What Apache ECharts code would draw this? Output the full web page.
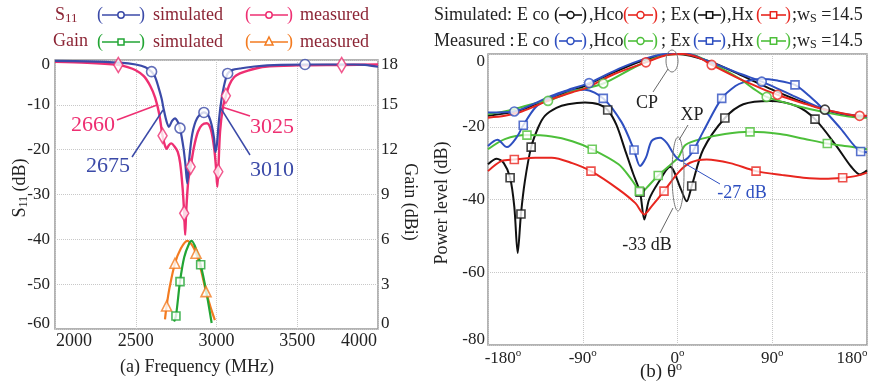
<!DOCTYPE html>
<html><head><meta charset="utf-8">
<script src="https://cdn.jsdelivr.net/npm/echarts@6/dist/echarts.min.js"></script>
<style>html,body{margin:0;padding:0;background:#fff}#c{width:883px;height:386px}</style>
</head><body><div id="c"></div>
<script>
// ---------- (a) S11 / Gain vs frequency ----------
const s11SimFreq = [2000,2200,2400,2500,2560,2598,2620,2640,2660,2672,2690,2705,2725,2743,2760,2774,2795,2808,2819,2830,2850,2880,2922,2950,2970,2985,2993,3002,3015,3030,3045,3069,3100,3145,3250,3400,3548,3700,3850,3920,4000];
const s11SimDb   = [-0.2,-0.3,-0.6,-1.0,-1.6,-2.6,-3.8,-6.0,-8.6,-10.8,-13.6,-14.9,-13.6,-13.0,-13.8,-15.2,-19.5,-23.5,-27.5,-22.5,-16.5,-13.0,-11.7,-12.4,-14.5,-17.5,-20.5,-19.0,-13.5,-9.0,-6.0,-3.0,-2.2,-1.9,-1.4,-1.1,-1.0,-1.0,-1.0,-1.1,-1.5];
const s11SimMarkFreq = [2598,2774,2922,3069,3548];
const s11SimMarkDb   = [-2.6,-15.2,-11.7,-3.0,-1.0];

const s11MeasFreq = [2000,2200,2392,2450,2500,2550,2590,2620,2645,2666,2680,2692,2705,2720,2740,2760,2775,2790,2800,2806,2812,2825,2840,2860,2885,2910,2940,2965,2985,2997,3005,3011,3022,3040,3058,3080,3110,3145,3200,3300,3500,3775,4000];
const s11MeasDb   = [-0.4,-0.6,-1.1,-1.6,-2.3,-3.6,-5.8,-8.4,-12.0,-16.9,-19.0,-19.8,-19.0,-18.6,-19.3,-20.5,-23.0,-28.5,-34.2,-39.0,-34.0,-27.0,-23.8,-19.5,-16.0,-14.5,-14.1,-15.5,-19.5,-24.0,-28.3,-24.9,-16.0,-10.5,-8.0,-5.5,-3.8,-3.0,-2.3,-1.5,-1.2,-1.1,-1.0];
const s11MeasMarkFreq = [2392,2666,2800,2840,3011,3058,3775];
const s11MeasMarkDb   = [-1.1,-16.9,-34.2,-23.8,-24.9,-8.0,-1.1];

const gainSimFreq = [2737,2749,2774,2800,2830,2846,2875,2902,2935,2970];
const gainSimDbi  = [0.5,0.87,3.17,4.8,5.7,5.9,5.3,4.3,2.6,0.4];
const gainSimMarkFreq = [2749,2774,2902];
const gainSimMarkDbi  = [0.87,3.17,4.3];

const gainMeasFreq = [2681,2691,2710,2743,2780,2819,2850,2873,2905,2935,2965,2990];
const gainMeasDbi  = [0.65,1.54,2.8,4.4,5.4,5.9,5.6,5.07,3.9,2.5,1.4,0.6];
const gainMeasMarkFreq = [2691,2743,2873,2935];
const gainMeasMarkDbi  = [1.54,4.4,5.07,2.5];

// ---------- (b) radiation patterns ----------
const ecoSimTheta = [-180,-150,-120,-90,-60,-30,0,30,60,90,115,140,160,180];
const ecoSimDb    = [-17,-15.5,-12,-9,-5,-1.5,0,-2,-5.8,-9.8,-12.8,-15.3,-16.8,-17.3];
const ecoSimMarkTheta = [140];
const ecoSimMarkDb    = [-15.3];

const hcoSimTheta = [-180,-164,-150,-135,-119.5,-100,-88,-60,-30,-10,5,20,32.5,60,80,95,120,138.5,160,173,180];
const hcoSimDb    = [-17.5,-17,-16,-14.3,-12.4,-10.5,-9.5,-5.5,-2.3,-0.3,0,-1,-3,-7,-9.5,-11.2,-13.6,-15.2,-16.5,-17,-17];
const hcoSimMarkTheta = [-30,32.5,95,173];
const hcoSimMarkDb    = [-2.3,-3,-11.2,-17];

const ecoMeasTheta = [-180,-155,-135,-120,-100,-84,-56,-30,-10,10,25,40,60,80,95,110,135,155,173,180];
const ecoMeasDb    = [-16.1,-15.8,-13.5,-11.5,-9.5,-8,-4.1,-1.2,0,0,-1.5,-3.2,-5.5,-7.6,-9.5,-11.5,-14.7,-16.3,-17,-17.2];
const ecoMeasMarkTheta = [-155,-84,80];
const ecoMeasMarkDb    = [-15.8,-8,-7.6];

const hcoMeasTheta = [-180,-160,-132,-123,-100,-70.5,-40,-15,0,15,40,60,72,84.7,110,140,173,180];
const hcoMeasDb    = [-16.6,-15.5,-13.3,-12.9,-10.3,-8.1,-3.5,-0.5,0,-0.3,-3.7,-7,-9.5,-11.8,-14,-16,-17.5,-17.5];
const hcoMeasMarkTheta = [-123,-70.5,84.7];
const hcoMeasMarkDb    = [-12.9,-8.1,-11.8];

const exSimTheta = [-180,-171.7,-165,-159,-155,-151.8,-148.7,-145,-139,-132,-126,-115,-104,-88,-75,-66.3,-58,-50,-42,-35.6,-31.5,-27,-18.3,-7,3,8.7,13.5,24.5,45,62.5,88,113,130.6,151,165,173.3,180];
const exSimDb    = [-30.3,-28.8,-30,-34,-42,-54.7,-44,-35,-25.6,-20,-17,-14.8,-13.8,-13.3,-13.8,-15.4,-19.5,-26.2,-33,-38,-45.5,-40,-35.4,-31,-37,-40.5,-36.3,-26.2,-17.6,-13.8,-12.9,-14.3,-17.9,-25.3,-31,-33.1,-32];
const exSimMarkTheta = [-159,-148.7,-139,-66.3,-35.6,13.5,45,130.6];
const exSimMarkDb    = [-34,-44,-25.6,-15.4,-38,-36.3,-17.6,-17.9];

const exMeasTheta = [-180,-171,-162,-153,-146.5,-135,-123,-104,-88,-70.5,-53,-41.3,-35.6,-30,-24.5,-16.5,-10,-2.4,4,10,15.7,25,42,55,62.5,78.4,95,111.6,125,138.5,155,174,180];
const exMeasDb    = [-25.3,-23.6,-25.6,-23,-19.6,-14.7,-12.4,-10.1,-9.8,-12.2,-18.8,-26.4,-30.8,-28.5,-23.9,-23,-24.5,-28,-29.4,-28.5,-26.2,-21,-12.2,-8.8,-7.8,-6.9,-7.3,-8.5,-11.5,-15.2,-20.5,-26.8,-27];
const exMeasMarkTheta = [-146.5,-70.5,-41.3,15.7,42,111.6,174];
const exMeasMarkDb    = [-19.6,-12.2,-26.4,-26.2,-12.2,-8.5,-26.8];

const hxSimTheta = [-180,-167,-155,-135,-119.5,-100,-82.2,-56,-40,-31.5,-25,-12.8,0.7,11.9,27.7,50,74.6,100,119.5,140,156.9,170,180];
const hxSimDb    = [-32.2,-29.4,-29,-28.5,-28.5,-30,-32.2,-37.2,-41,-44.1,-42,-37.7,-32.6,-29.9,-29,-30,-32.2,-33.3,-34,-34.3,-34,-33.5,-32.6];
const hxSimMarkTheta = [-155,-82.2,-12.8,74.6,156.9];
const hxSimMarkDb    = [-29,-32.2,-37.7,-32.2,-34];

const hxMeasTheta = [-180,-164,-143,-119.5,-100,-81,-56,-45,-36.3,-34.7,-30,-18.3,-5,0.7,7.5,24.5,45,68.9,97.4,120,142.3,165,180];
const hxMeasDb    = [-26.2,-23.4,-22.3,-22.7,-24,-26.2,-30.3,-34,-37.7,-38.3,-37,-33.4,-30,-28.5,-25,-23.2,-22,-21.4,-22,-23.3,-24.6,-25.5,-26.2];
const hxMeasMarkTheta = [-143,-81,-36.3,-18.3,68.9,142.3];
const hxMeasMarkDb    = [-22.3,-26.2,-37.7,-33.4,-21.4,-24.6];

// ---------- styling ----------
const FONT = 'Liberation Serif';
const C = {
  s11Sim:'#3b4aa8', s11Meas:'#ee2f72', gainSim:'#22a534', gainMeas:'#f37b20',
  blk:'#111111', red:'#e8261f', blu:'#2e4fc0', grn:'#4dbf3a', legTxt:'#8c2535'
};
const zip = (a,b) => a.map((x,i)=>[x,b[i]]);
function curve(xs, ys, color, xi, yi, w, z){
  return {type:'line', data:zip(xs,ys), xAxisIndex:xi, yAxisIndex:yi, showSymbol:false, smooth:0.3,
    lineStyle:{color:color, width:w}, itemStyle:{color:color}, z:z||2, silent:true};
}
function marks(xs, ys, color, symbol, size, xi, yi){
  return {type:'scatter', data:zip(xs,ys), xAxisIndex:xi, yAxisIndex:yi, symbol:symbol, symbolSize:size,
    itemStyle:{color:'#fff', borderColor:color, borderWidth:1.6}, z:5, silent:true};
}
const gridLine = {show:true, lineStyle:{color:'#c8c8c8', type:'dotted', width:1}};
const lab = (sz) => ({fontFamily:FONT, fontSize:sz, color:'#222'});

const chart = echarts.init(document.getElementById('c'));

const option = {
  animation:false,
  grid:[
    {left:55, top:60, width:323, height:269, show:true, borderColor:'#9a9a9a', borderWidth:1.5, backgroundColor:'transparent'},
    {left:488, top:54, width:379, height:291, show:true, borderColor:'#9a9a9a', borderWidth:1.5, backgroundColor:'transparent'}
  ],
  xAxis:[
    {type:'value', gridIndex:0, min:2000, max:4000, interval:500, axisLine:{show:false}, axisTick:{show:false}, splitLine:gridLine,
     axisLabel:Object.assign(lab(18), {margin:3, formatter:v=> v===2000?'{l|2000}':(v===4000?'{r|4000}':String(v)),
       rich:{l:{fontFamily:FONT,fontSize:18,color:'#222',padding:[0,0,0,38]}, r:{fontFamily:FONT,fontSize:18,color:'#222',padding:[0,38,0,0]}}})},
    {type:'value', gridIndex:1, min:-180, max:180, interval:90, axisLine:{show:false}, axisTick:{show:false}, splitLine:gridLine,
     axisLabel:Object.assign(lab(17), {margin:3, formatter:v=>{
        const a = v===-180?'nl':'n', b = v===180?'sr':'s';
        return '{'+a+'|'+v+'}{'+b+'|o}';},
       rich:{n:{fontFamily:FONT,fontSize:17,color:'#222'}, nl:{fontFamily:FONT,fontSize:17,color:'#222',padding:[0,0,0,30]},
             s:{fontFamily:FONT,fontSize:11,color:'#222',padding:[0,0,10,0]}, sr:{fontFamily:FONT,fontSize:11,color:'#222',padding:[0,30,10,0]}}})}
  ],
  yAxis:[
    {type:'value', gridIndex:0, min:-60, max:0, interval:10, axisLine:{show:false}, axisTick:{show:false}, splitLine:gridLine,
     axisLabel:Object.assign(lab(17), {margin:5, formatter:v=> v===0?'{t|0}':(v===-60?'{b|-60}':String(v)),
       rich:{t:{fontFamily:FONT,fontSize:17,color:'#222',padding:[10,0,0,0]}, b:{fontFamily:FONT,fontSize:17,color:'#222',padding:[0,0,10,0]}}})},
    {type:'value', gridIndex:0, position:'right', min:0, max:18, interval:3, axisLine:{show:false}, axisTick:{show:false}, splitLine:{show:false},
     axisLabel:Object.assign(lab(17), {margin:3, formatter:v=> v===18?'{t|18}':(v===0?'{b|0}':String(v)),
       rich:{t:{fontFamily:FONT,fontSize:17,color:'#222',padding:[10,0,0,0]}, b:{fontFamily:FONT,fontSize:17,color:'#222',padding:[0,0,10,0]}}})},
    {type:'value', gridIndex:1, min:-80, max:0, interval:20, axisLine:{show:false}, axisTick:{show:false}, splitLine:gridLine,
     axisLabel:Object.assign(lab(17), {margin:3, formatter:v=> v===0?'{t|0}':(v===-80?'{b|-80}':String(v)),
       rich:{t:{fontFamily:FONT,fontSize:17,color:'#222',padding:[16,0,0,0]}, b:{fontFamily:FONT,fontSize:17,color:'#222',padding:[0,0,10,0]}}})}
  ],
  series:[
    curve(gainMeasFreq, gainMeasDbi, C.gainMeas, 0, 1, 2.2, 2),
    curve(gainSimFreq, gainSimDbi, C.gainSim, 0, 1, 2.2, 3),
    marks(gainMeasMarkFreq, gainMeasMarkDbi, C.gainMeas, 'triangle', 10, 0, 1),
    marks(gainSimMarkFreq, gainSimMarkDbi, C.gainSim, 'rect', 8, 0, 1),
    curve(s11MeasFreq, s11MeasDb, C.s11Meas, 0, 0, 2.4, 2),
    curve(s11SimFreq, s11SimDb, C.s11Sim, 0, 0, 2.2, 3),
    marks(s11MeasMarkFreq, s11MeasMarkDb, C.s11Meas, 'diamond', [9,15], 0, 0),
    marks(s11SimMarkFreq, s11SimMarkDb, C.s11Sim, 'circle', 10, 0, 0),

    curve(exSimTheta, exSimDb, C.blk, 1, 2, 2, 2),
    curve(hxSimTheta, hxSimDb, C.red, 1, 2, 2, 2),
    curve(hxMeasTheta, hxMeasDb, C.grn, 1, 2, 2, 2),
    curve(exMeasTheta, exMeasDb, C.blu, 1, 2, 2, 3),
    curve(ecoSimTheta, ecoSimDb, C.blk, 1, 2, 2, 2),
    curve(hcoMeasTheta, hcoMeasDb, C.grn, 1, 2, 2, 3),
    curve(ecoMeasTheta, ecoMeasDb, C.blu, 1, 2, 2, 3),
    curve(hcoSimTheta, hcoSimDb, C.red, 1, 2, 2, 4),
    marks(exSimMarkTheta, exSimMarkDb, C.blk, 'rect', 8, 1, 2),
    marks(hxSimMarkTheta, hxSimMarkDb, C.red, 'rect', 8, 1, 2),
    marks(hxMeasMarkTheta, hxMeasMarkDb, C.grn, 'rect', 8, 1, 2),
    marks(exMeasMarkTheta, exMeasMarkDb, C.blu, 'rect', 8, 1, 2),
    marks(ecoSimMarkTheta, ecoSimMarkDb, C.blk, 'circle', 9, 1, 2),
    marks(hcoMeasMarkTheta, hcoMeasMarkDb, C.grn, 'circle', 9, 1, 2),
    marks(ecoMeasMarkTheta, ecoMeasMarkDb, C.blu, 'circle', 9, 1, 2),
    marks(hcoSimMarkTheta, hcoSimMarkDb, C.red, 'circle', 9, 1, 2)
  ]
};

// ---------- legends, titles, annotations (graphic) ----------
const G = [];
function txt(x, y, s, opt){
  opt = opt || {};
  G.push({type:'text', x:x, y:y, rotation:opt.rot||0, z:10, silent:true,
    style:{text:s, fill:opt.color||'#222', font:(opt.size||18)+'px "'+FONT+'"', align:opt.align||'left', verticalAlign:'middle', rich:opt.rich}});
}
function mk(cx, cy, color, sym, s){
  const st = {fill:'#fff', stroke:color, lineWidth:1.5};
  if (sym==='circle') G.push({type:'circle', z:11, shape:{cx:cx, cy:cy, r:s}, style:st});
  else if (sym==='rect') G.push({type:'rect', z:11, shape:{x:cx-s, y:cy-s, width:2*s, height:2*s}, style:st});
  else if (sym==='triangle') G.push({type:'polygon', z:11, shape:{points:[[cx,cy-s-1],[cx+s,cy+s-1],[cx-s,cy+s-1]]}, style:st});
}
function glyph(x, w, y, color, sym, s, fs){
  txt(x, y, '(', {color:color, size:fs});
  txt(x+w, y, ')', {color:color, size:fs, align:'right'});
  G.push({type:'line', z:10, shape:{x1:x+5, y1:y, x2:x+w-5, y2:y}, style:{stroke:color, lineWidth:1.6}});
  mk(x+w/2, y, color, sym, s);
}
const subRich = (sz,col) => ({sub:{fontFamily:FONT, fontSize:sz, fill:col, color:col, padding:[8,0,0,0]}, n:{fontFamily:FONT, fontSize:18, fill:col, color:col}});

// left legend
txt(55, 15, '{n|S}{sub|11}', {color:C.legTxt, rich:subRich(13, C.legTxt)});
glyph(97, 48, 15, C.s11Sim, 'circle', 3.2, 18);  txt(153, 15, 'simulated', {color:C.legTxt});
glyph(245, 48, 15, C.s11Meas, 'circle', 3.2, 18); txt(300, 15, 'measured', {color:C.legTxt});
txt(53, 41, 'Gain', {color:C.legTxt});
glyph(97, 48, 42, C.gainSim, 'rect', 3, 18);  txt(153, 42, 'simulated', {color:C.legTxt});
glyph(245, 48, 42, C.gainMeas, 'triangle', 4, 18); txt(300, 42, 'measured', {color:C.legTxt});

// right legend
function rowR(y, label, c1, c2){
  txt(434, y, label, {color:'#222'});
  txt(517, y, 'E co', {color:'#222'});
  glyph(554, 33, y, c1, 'circle', 3.5, 18);
  txt(589, y, ',Hco', {color:'#222'});
  glyph(623, 35, y, c2, 'circle', 3.5, 18);
  txt(661, y, '; Ex', {color:'#222'});
  glyph(693, 33, y, c1, 'rect', 3.2, 18);
  txt(727, y, ',Hx', {color:'#222'});
  glyph(756, 35, y, c2, 'rect', 3.2, 18);
  txt(792, y, '{n|;w}{sub|S}{n| =14.5}', {color:'#222', rich:subRich(12,'#222')});
}
rowR(15, 'Simulated:', C.blk, C.red);
rowR(41, 'Measured :', C.blu, C.grn);

// axis titles
txt(20, 188, '{n|S}{sub|11}{n| (dB)}', {rot:Math.PI/2, align:'center', rich:subRich(12,'#222')});
txt(410, 202, 'Gain (dBi)', {rot:-Math.PI/2, align:'center'});
txt(197, 367, '(a) Frequency (MHz)', {align:'center'});
txt(442, 203, 'Power level (dB)', {rot:Math.PI/2, align:'center'});
txt(661, 372, '{n|(b) θ}{sup|o}', {align:'center', rich:{n:{fontFamily:FONT,fontSize:19,color:'#222'}, sup:{fontFamily:FONT,fontSize:12,color:'#222',padding:[0,0,10,0]}}});

// left annotations
function seg(x1,y1,x2,y2,col,w){ G.push({type:'line', z:9, silent:true, shape:{x1:x1,y1:y1,x2:x2,y2:y2}, style:{stroke:col, lineWidth:w||1.5}}); }
txt(93, 125, '2660', {color:C.s11Meas, size:22, align:'center'}); seg(117,120,157,105,C.s11Meas);
txt(108, 166, '2675', {color:C.s11Sim, size:22, align:'center'}); seg(132,157,163,110,C.s11Sim);
txt(272, 127, '3025', {color:C.s11Meas, size:22, align:'center'}); seg(250,116,222,107,C.s11Meas);
txt(272, 170, '3010', {color:C.s11Sim, size:22, align:'center'}); seg(250,155,220,107,C.s11Sim);

// right annotations
G.push({type:'ellipse', z:9, silent:true, shape:{cx:672, cy:61, rx:6, ry:11}, style:{fill:'none', stroke:'#777', lineWidth:1}});
G.push({type:'ellipse', z:9, silent:true, shape:{cx:678, cy:174, rx:6, ry:37}, style:{fill:'none', stroke:'#777', lineWidth:1}});
txt(647, 103, 'CP', {align:'center'}); seg(653,92,668,69,'#666',1);
txt(692, 115, 'XP', {align:'center'}); seg(688,125,679,140,'#666',1);
txt(742, 193, '-27 dB', {color:C.blu, align:'center'}); seg(720,184,684,163,C.blu,1);
txt(647, 245, '-33 dB', {align:'center'}); seg(660,233,673,208,'#666',1);

option.graphic = {elements:G};
chart.setOption(option);
</script></body></html>
